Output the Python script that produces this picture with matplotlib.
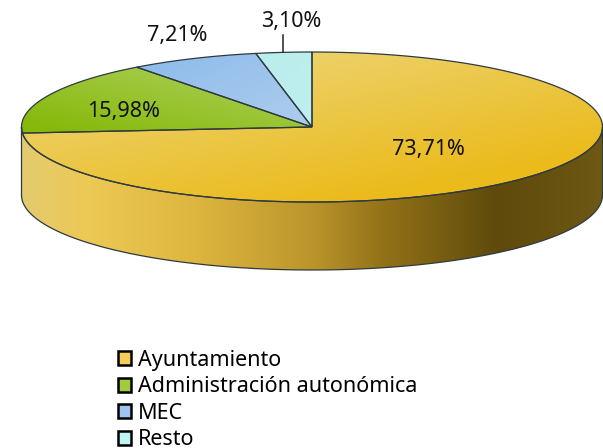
import numpy as np
import matplotlib
matplotlib.use("Agg")
import matplotlib.pyplot as plt
from matplotlib.colors import LinearSegmentedColormap
from matplotlib.patches import Polygon, Patch

categories = ["Ayuntamiento", "Administración autonómica", "MEC", "Resto"]
shares = [73.71, 15.98, 7.21, 3.10]
labels = ["73,71%", "15,98%", "7,21%", "3,10%"]

plt.rcParams['font.family'] = ['Noto Sans', 'DejaVu Sans']
W, H = 603, 448
fig = plt.figure(figsize=(W/100, H/100), dpi=100)
ax = fig.add_axes([0, 0, 1, 1])
ax.set_axis_off()

cx, cy, rx, ry, depth = 312, 127, 290.5, 75, 68
EDGE = "#2f3a40"

def ell(t):
    return np.column_stack([cx + rx*np.sin(t), cy - ry*np.cos(t)])

def grad(poly, x0, x1, y0, y1, stops, horizontal=False, diag=None):
    cm = LinearSegmentedColormap.from_list("g", stops)
    n = 256
    X, Y = np.meshgrid(np.linspace(0, 1, n), np.linspace(0, 1, n))
    if horizontal:
        Z = X
    else:
        Z = np.clip(diag[0]*X + diag[1]*Y + diag[2], 0, 1)
    im = ax.imshow(Z, cmap=cm, vmin=0, vmax=1, extent=[x0, x1, y1, y0],
                   aspect='auto', interpolation='bilinear', zorder=2)
    p = Polygon(poly, closed=True, facecolor='none', edgecolor=EDGE, lw=0.9, zorder=3)
    ax.add_patch(p)
    im.set_clip_path(p)

# side wall
ts = np.linspace(np.pi/2, 3*np.pi/2, 300)
low = ell(ts)
side = np.vstack([low, low[::-1] + [0, depth]])
side_stops = [(0, "#E4CB70"), (0.11, "#EDC955"), (0.3, "#DDB63F"), (0.5, "#BB952C"),
              (0.62, "#937318"), (0.82, "#5F4A0C"), (1, "#6E5814")]
grad(side, 21, 603, 127, 271, side_stops, horizontal=True)

# top slices
fr = np.cumsum([0] + shares) / 100 * 2*np.pi
slice_styles = [
    (["#EDD77E", "#EBBB1C"], (0.55, 0.75, -0.05)),
    (["#86B90B", "#ADD05A"], (0.6, -0.6, 0.5)),
    (["#8CBBEC", "#AECDEC"], (0.5, 0.5, -0.0)),
    (["#BAEDED", "#BFEFEF"], (0.5, 0.5, 0.0)),
]
for i, (stops, diag) in enumerate(slice_styles):
    t = np.linspace(fr[i], fr[i+1], 300)
    poly = np.vstack([[cx, cy], ell(t)])
    x0, x1 = poly[:, 0].min(), poly[:, 0].max()
    y0, y1 = poly[:, 1].min(), poly[:, 1].max()
    grad(poly, x0, x1, y0, y1, stops, diag=diag)

# labels
fs = 15.5
pos = [(428, 150), (123, 112), (177, 35), (291, 22)]
for s, (x, y) in zip(labels, pos):
    ax.text(x, y, s, ha='center', va='center', fontsize=fs, color='#111111', zorder=5)
ax.plot([283, 283], [35, 52], color='#222222', lw=1.1, zorder=4)

ax.set_xlim(0, W)
ax.set_ylim(H, 0)

swatch = ["#F5CE5A", "#9FCB3C", "#9DC5F0", "#C0F5F5"]
handles = [Patch(facecolor=c, edgecolor='black', lw=1.8) for c in swatch]
leg = ax.legend(handles, categories, loc='upper left', bbox_to_anchor=(118/W, 1-350/H),
                frameon=False, fontsize=fs, handlelength=0.62, handleheight=0.62,
                handletextpad=0.3, labelspacing=0.25, borderpad=0, borderaxespad=0)
fig.savefig("out.png", dpi=100)
